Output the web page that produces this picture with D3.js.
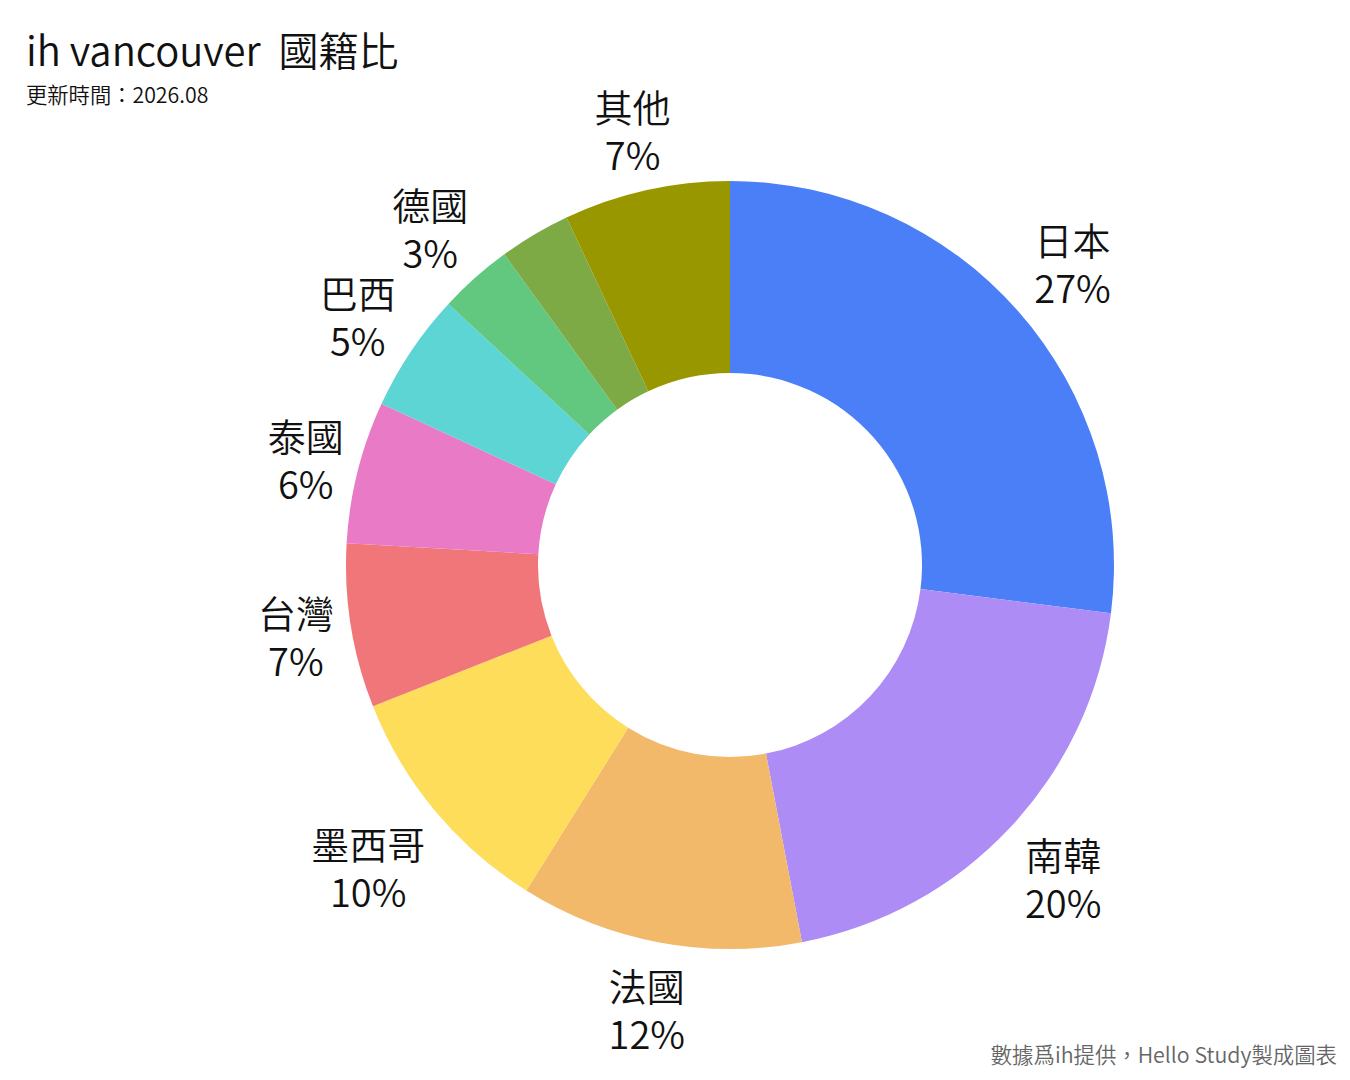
<!DOCTYPE html>
<html>
<head>
<meta charset="utf-8">
<script src="https://cdn.jsdelivr.net/npm/d3@7"></script>
<style>
  body { margin: 0; background: #fff; }
  svg text { font-family: "Noto Sans CJK TC", "Noto Sans", sans-serif; white-space: pre; }
</style>
</head>
<body>
<div id="chart"></div>
<script>
// chart data (clockwise from 12 o'clock)
const countries = ["日本", "南韓", "法國", "墨西哥", "台灣", "泰國", "巴西", "德國", "（未標示）", "其他"];
const shares = [27.0, 20.0, 11.9, 10.1, 6.9, 6.0, 5.0, 3.1, 3.0, 7.0];
const colors = ["#4a7ff8", "#ad8cf6", "#f2b96a", "#fedd5a", "#f0767a", "#e97ac6", "#5dd5d4", "#62c880", "#7eaa45", "#989700"];
const hiddenLabels = ["（未標示）"];

const width = 1350, height = 1080;
const cx = 730, cy = 565;
const outerR = 384, innerR = 192;
const labelOffset = 10;

let data = countries.map((c, i) => ({name: c, value: shares[i], color: colors[i]}));

let svg = d3.select("#chart").append("svg")
  .attr("width", width)
  .attr("height", height);

// title
svg.append("text")
  .attr("x", 26).attr("y", 66)
  .attr("font-size", 40)
  .attr("font-weight", 350)
  .attr("fill", "#111")
  .text("ih vancouver  國籍比");

svg.append("text")
  .attr("x", 26).attr("y", 103)
  .attr("font-size", 21.3)
  .attr("font-weight", 350)
  .attr("fill", "#111")
  .text("更新時間：2026.08");

svg.append("text")
  .attr("x", 1337).attr("y", 1063)
  .attr("text-anchor", "end")
  .attr("font-size", 21.4)
  .attr("font-weight", 350)
  .attr("fill", "#666")
  .text("數據爲ih提供，Hello Study製成圖表");

let pie = d3.pie().value(d => d.value).sort(null);
let arc = d3.arc().innerRadius(innerR).outerRadius(outerR);
let arcs = pie(data);

let g = svg.append("g").attr("transform", `translate(${cx},${cy})`);

g.selectAll("path")
  .data(arcs)
  .enter()
  .append("path")
  .attr("d", arc)
  .attr("fill", d => d.data.color);

// labels outside the ring
let total = d3.sum(shares);
let labels = g.selectAll("g.label")
  .data(arcs.filter(d => !hiddenLabels.includes(d.data.name)))
  .enter()
  .append("g")
  .attr("class", "label");

labels.each(function(d) {
  let lg = d3.select(this);
  let t = lg.append("text")
    .attr("text-anchor", "middle")
    .attr("font-size", 38)
    .attr("font-weight", 350)
    .attr("fill", "#111");
  t.append("tspan").attr("x", 0).attr("y", 0).text(d.data.name);
  t.append("tspan").attr("x", 0).attr("y", 48).text(Math.round(d.data.value / total * 100) + "%");

  let bb = t.node().getBBox();
  let a = (d.startAngle + d.endAngle) / 2;
  let ux = Math.sin(a), uy = -Math.cos(a);
  // upper-left labels sit a bit closer to the ring in the original
  let ext = Math.abs(ux) * bb.width / 2 + Math.abs(uy) * bb.height / 2;
  if (ux < 0 && uy < 0) ext -= 6;
  let r = outerR + labelOffset + ext;
  let px = ux * r, py = uy * r;
  // shift so the box centre sits at (px, py)
  let bx = bb.x + bb.width / 2, by = bb.y + bb.height / 2;
  lg.attr("transform", `translate(${px - bx},${py - by})`);
});
</script>
</body>
</html>
